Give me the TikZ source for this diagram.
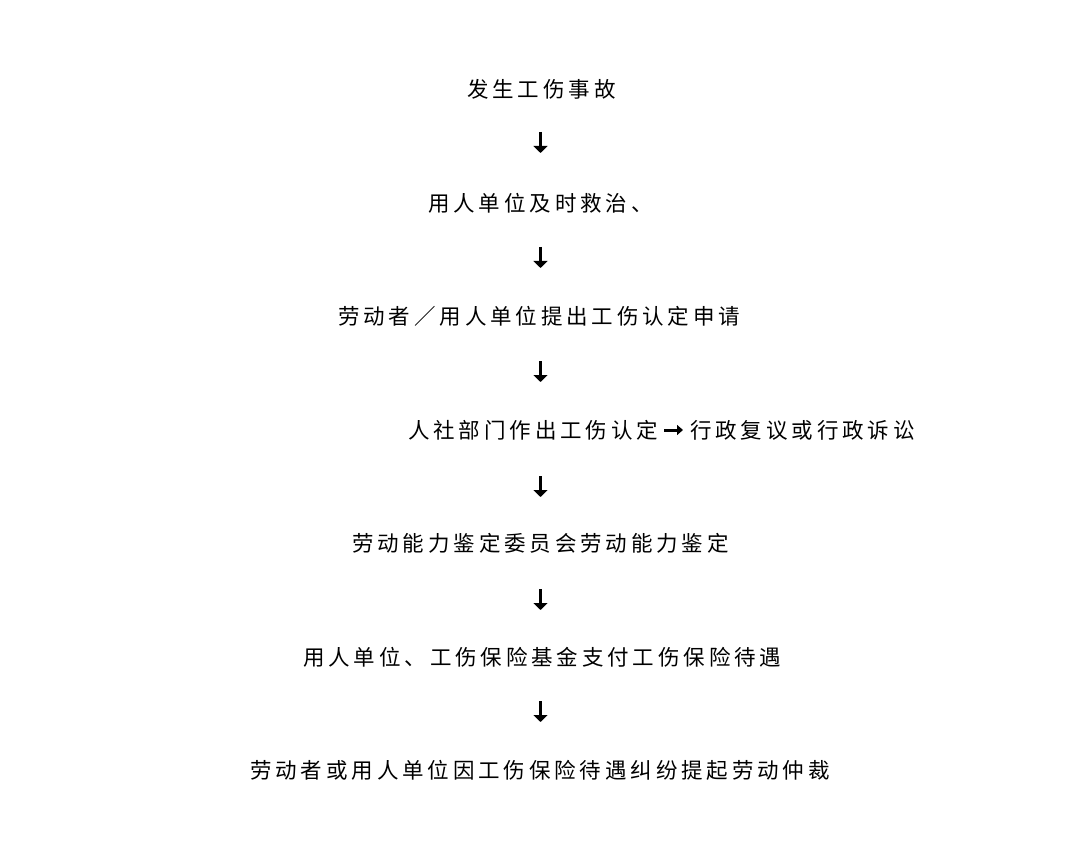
\documentclass[tikz,border=0pt]{standalone}
\usepackage{fontspec}
\usetikzlibrary{arrows.meta}
\newfontfamily\cjk[LetterSpace=18]{Noto Sans CJK SC}
\tikzset{
  rowtext/.style={anchor=base west, inner sep=0pt, font=\cjk\fontsize{21.5pt}{24pt}\selectfont, text=black},
  downarrow/.style={line width=3pt, -{Triangle[width=14pt,length=7pt]}},
  rightarrow/.style={line width=3pt, -{Triangle[width=10pt,length=6pt]}}
}
\begin{document}
\begin{tikzpicture}[x=1pt,y=-1pt]
\useasboundingbox (0,0) rectangle (1080,853);
\fill[white] (0,0) rectangle (1080,853);
\node[rowtext] (r1) at (467,98) {发生工伤事故};
\node[rowtext] (r2) at (428,212) {用人单位及时救治、};
\node[rowtext] (r3) at (338,325) {劳动者／用人单位提出工伤认定申请};
\node[rowtext] (r4a) at (408,438) {人社部门作出工伤认定};
\node[rowtext] (r4b) at (690,438) {行政复议或行政诉讼};
\node[rowtext] (r5) at (352,551) {劳动能力鉴定委员会劳动能力鉴定};
\node[rowtext] (r6) at (303,665) {用人单位、工伤保险基金支付工伤保险待遇};
\node[rowtext] (r7) at (250,778) {劳动者或用人单位因工伤保险待遇纠纷提起劳动仲裁};
\coordinate (a1s) at (540.5,132); \coordinate (a1e) at (540.5,153);
\coordinate (a2s) at (540.5,247); \coordinate (a2e) at (540.5,268);
\coordinate (a3s) at (540.5,361); \coordinate (a3e) at (540.5,382);
\coordinate (a4s) at (540.5,476); \coordinate (a4e) at (540.5,497);
\coordinate (a5s) at (540.5,589); \coordinate (a5e) at (540.5,610);
\coordinate (a6s) at (540.5,701); \coordinate (a6e) at (540.5,722);
\coordinate (hs) at (664,430); \coordinate (he) at (683,430);
\draw[downarrow] (a1s) -- (a1e);
\draw[downarrow] (a2s) -- (a2e);
\draw[downarrow] (a3s) -- (a3e);
\draw[downarrow] (a4s) -- (a4e);
\draw[downarrow] (a5s) -- (a5e);
\draw[downarrow] (a6s) -- (a6e);
\draw[rightarrow] (hs) -- (he);
\end{tikzpicture}
\end{document}
